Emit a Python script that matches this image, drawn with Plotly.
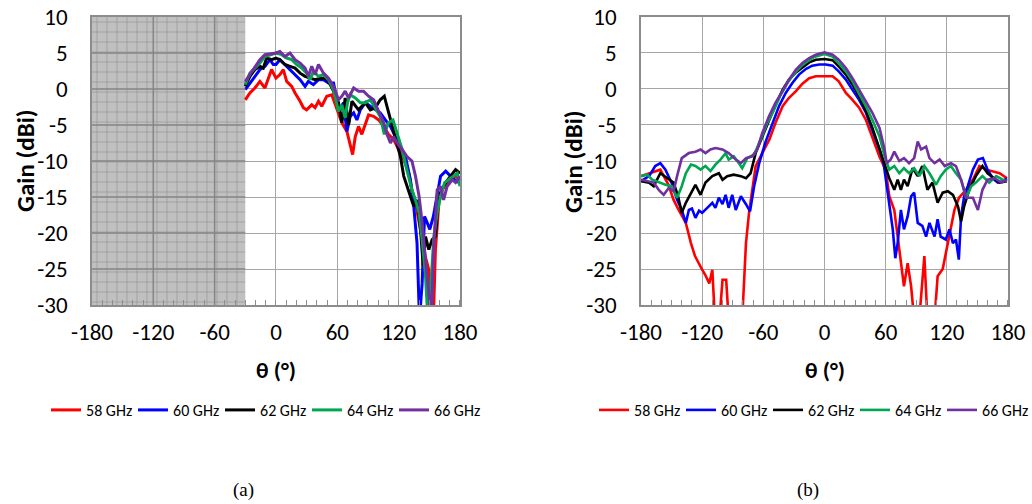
import plotly.graph_objects as go

# ---------------- data (a): measured from -30 deg to 180 deg ----------------
theta_a_58 = [-30, -25.5, -20.6, -15.7, -10.8, -7.5, -4.3, 0, 3.9, 7.2, 10.5, 15.4, 18.7, 23.6, 26.8, 30, 35, 38.3, 41.6, 44.8,
              49.7, 54.6, 59.6, 64.5, 69.4, 72.6, 75, 77.6, 80.8, 84, 87.4, 90.6, 95.5, 100.5, 105.4, 110, 115, 120, 125, 130,
              133, 136.5, 140, 143, 146, 149.5, 152, 154, 156, 159.4, 162.6, 167.5, 172.5, 175.7, 180]
gain_a_58 = [-1.5, -0.56, 0.14, 1.06, 0.14, 1.5, 2.7, 1.5, 2.0, 2.7, 1.06, 0.37, -0.56, -1.7, -2.6, -2.9, -2.2, -2.6, -1.7, -2.4,
             -1.0, -0.8, -2.9, -4.7, -5.9, -7.7, -9.1, -6.6, -5.2, -6.3, -5.0, -3.6, -3.8, -4.3, -5.2, -6.3, -7.0, -8.4, -9.8, -11.7,
             -14, -15.8, -18.6, -21.4, -23.2, -25.1, -32, -32, -22.3, -15.8, -14, -13, -12.6, -12.1, -12.6]

theta_a_60 = [-30, -25.5, -20.6, -15.7, -10.8, -5.9, -2.6, 0, 3.9, 8.8, 13.7, 18.7, 23.6, 28.5, 31.7, 36.6, 41.6, 46.5, 51.4, 56.3,
              59.6, 62.8, 66, 69.4, 72.6, 76, 79.2, 82.5, 87.4, 92.3, 97.2, 102, 107, 112, 116.8, 121.7, 126.6, 131.5, 134.8, 138,
              140.4, 143, 145.3, 148, 150.5, 154, 157.7, 161, 166, 171, 175.7, 180]
gain_a_60 = [-0.1, 0.83, 1.76, 2.7, 3.15, 4.07, 3.4, 3.4, 4.07, 3.4, 2.7, 2.0, 1.3, 0.37, 1.06, 0.6, 1.3, 1.3, 0.83, 0.83,
             -1.5, -2.9, -1.9, -5.9, -3.8, -3.3, -4.3, -2.9, -1.9, -2.4, -2.9, -3.3, -4.3, -5.2, -6.6, -8.0, -9.35, -12.6, -16.3, -21.4,
             -32, -27, -17.7, -18.6, -19.5, -17.7, -14.9, -12.1, -11.4, -12.1, -12.8, -13]

theta_a_62 = [-30, -25.5, -20.6, -15.7, -12.4, -9.2, -4.3, 0, 3.9, 8.8, 13.7, 18.7, 23.6, 28.5, 33.4, 38.3, 43.2, 48, 51.4, 56.3,
              61.2, 64.5, 67.7, 71, 74.3, 77.6, 80.8, 84, 87.4, 92.3, 97.2, 102, 106, 108.6, 112, 116.8, 121.7, 125, 128, 131.5,
              134.8, 138, 141.4, 144, 146.3, 149.5, 152.8, 156, 158.4, 161, 166, 171, 175.7, 180]
gain_a_62 = [0.37, 1.76, 2.7, 3.15, 2.9, 4.3, 4.07, 4.3, 4.07, 3.4, 3.15, 2.9, 2.2, 1.76, 1.5, 1.3, 1.5, 1.5, 1.06, -0.3,
             -1.9, -4.7, -1.25, -5.0, -1.7, -2.4, -2.9, -2.4, -1.9, -2.9, -2.6, -1.5, -1.0, -2.4, -4.3, -6.6, -9.35, -12.1, -13.5, -14.9,
             -16.3, -15.4, -19.5, -24.5, -20.5, -22.3, -20.9, -20.5, -16.3, -14.4, -13, -12.1, -11.2, -11.7]

theta_a_64 = [-30, -25.5, -20.6, -15.7, -10.8, -5.9, 0, 5.6, 10.5, 15.4, 20.3, 25.2, 30, 33.4, 36.6, 41.6, 46.5, 51.4, 56.3, 61.2,
              64.5, 67.7, 70, 72.6, 77.6, 82.5, 87.4, 92.3, 97.2, 102, 106, 110, 114.5, 118.5, 123.4, 128, 133, 136.5, 140, 143,
              146.3, 148.6, 151, 154.5, 157.7, 161, 165, 169, 174, 177.4, 180]
gain_a_64 = [0.6, 2.2, 2.9, 3.6, 4.5, 4.77, 5.0, 4.77, 4.3, 4.07, 3.4, 2.9, 2.2, 1.3, 2.45, 1.76, 2.0, 1.3, -0.1, -3.1,
             -2.2, -4.0, -1.9, -0.8, -1.25, -1.9, -1.9, -1.5, -2.6, -3.8, -6.3, -4.7, -4.3, -6.1, -8.4, -11.2, -14, -15.4, -17.2, -20.9,
             -26, -32, -28.3, -20.5, -17.2, -14.9, -13, -12.6, -12.1, -11.7, -13.5]

theta_a_66 = [-30, -25.5, -20.6, -15.7, -10.8, -5.9, 0, 3.9, 8.8, 13.7, 18.7, 23.6, 28.5, 31.7, 35, 38.3, 41.6, 46.5, 51.4, 56.3,
              61.2, 64.5, 67.7, 71, 76, 80.8, 85.7, 90.6, 95.5, 100.5, 105.4, 108.6, 112, 115, 118.5, 123.4, 128, 133, 136.5, 140,
              143, 146.3, 149.5, 152, 154.5, 157.7, 161, 164, 167.5, 172.5, 175.7, 180]
gain_a_66 = [1.06, 2.0, 3.15, 4.07, 4.77, 4.86, 5.0, 5.2, 4.5, 5.0, 4.07, 3.6, 2.9, 1.76, 3.15, 2.0, 3.4, 2.2, 1.5, 0.37,
             -1.5, -1.0, -0.3, -1.25, 0.14, -0.3, -0.3, -1.0, -1.5, -3.1, -4.7, -6.3, -7.5, -6.6, -7.5, -8.4, -9.35, -10, -12.1, -14.9,
             -18.6, -23.7, -28.8, -32, -21.4, -14, -13.5, -15.4, -13.5, -12.6, -13, -12.1]

# ---------------- data (b): full -180 deg to 180 deg ----------------
theta_b_58 = [-180, -172, -161, -153, -148, -143, -136, -131, -127, -120, -117, -113, -110, -107.5, -103, -100, -96.4, -94, -80.7, -77,
              -74, -67.5, -61, -54, -48, -41, -35, -28, -21.6, -15, -8.5, 0, 8, 14, 21, 27.5, 34, 40.7, 47, 54,
              60, 63.6, 68.5, 71.8, 75, 78, 81.6, 85, 88, 93, 98, 101, 108, 111, 116, 121, 124, 127.5, 132, 139,
              145.6, 152, 158.7, 165, 171.8, 179]
gain_b_58 = [-12.1, -11.7, -11.2, -13.3, -15.4, -16.8, -18.6, -21.4, -23.2, -25.1, -25.8, -27, -25.1, -32, -32, -26.5, -26.5, -32, -32, -21.4,
             -17.2, -10.7, -8.9, -7.0, -4.7, -2.4, -1.25, -0.3, 0.74, 1.5, 1.76, 1.76, 1.76, 1.06, -0.56, -1.5, -2.6, -4.3, -6.6, -9.4,
             -11.2, -14.9, -16.8, -20.5, -24.2, -27.4, -24.2, -27.4, -32, -32, -23.2, -32, -32, -26, -25, -21.4, -19.5, -16.8, -15.1, -14,
             -12.6, -10.7, -11.2, -11.4, -11.7, -12.4]

theta_b_60 = [-180, -172, -166, -161, -156, -150, -144.6, -140, -136, -133, -130, -126.6, -123, -120, -115, -110, -107, -103.6, -100, -97,
              -94, -90.5, -87, -82, -77, -73, -69, -64, -57.7, -51, -44.6, -38, -31.5, -25, -18, -12, -5, 1.3, 8, 14,
              21, 27.5, 34, 40.7, 47, 54, 58, 61, 63.6, 67, 69.5, 71.8, 75, 78, 81.6, 85, 88, 91.5, 96, 99.7,
              103, 108, 111, 114, 119, 122.6, 126, 129, 131.8, 134, 137, 140.6, 145.6, 150.5, 155.4, 160, 165, 170, 175, 179]
gain_b_60 = [-12.8, -12.1, -10.7, -10.3, -11.2, -13, -15.4, -16.8, -18.6, -16.8, -16.6, -17.9, -16.9, -17.2, -16.5, -15.8, -16.5, -15.1, -16.0, -14.7,
             -16.5, -14.7, -16.8, -14.9, -16.0, -17, -13.5, -10.3, -7.3, -4.7, -2.4, -0.56, 0.83, 2.0, 2.8, 3.24, 3.4, 3.4, 3.24, 2.45,
             1.3, -0.1, -1.5, -3.3, -5.6, -8.4, -10.3, -13.5, -15.8, -19.5, -23.5, -21.4, -16.8, -19.5, -17.7, -14.9, -14.4, -18.6, -19, -20.5,
             -18.6, -20.5, -18.1, -20.5, -20.9, -19.5, -21.4, -20.9, -23.7, -17.7, -14.9, -13.5, -11.2, -9.8, -9.6, -11.2, -12.4, -13, -12.8, -12.4]

theta_b_62 = [-180, -172, -167.5, -161, -154, -148, -143.6, -140, -136, -131, -126.6, -121.6, -116.7, -110, -103.6, -100, -95.4, -89, -82, -77,
              -72.5, -67.5, -61, -54.4, -48, -41, -34.8, -28, -21.6, -15, -8.5, 0, 8, 14, 21, 27.5, 34, 40.7, 47, 54,
              59, 63.6, 68.5, 71.8, 75, 78, 81.6, 86.5, 91.5, 96, 101, 106, 111, 116, 121, 126, 131, 134, 137, 142,
              148.5, 155, 160, 167, 171.8, 179]
gain_b_62 = [-12.8, -13, -13.5, -11.7, -12.4, -13, -14.9, -17.2, -15.8, -14.4, -13.3, -14.7, -13, -12.1, -11.7, -12.6, -12.1, -11.9, -12.1, -12.4,
             -11.7, -8.9, -6.6, -4.3, -2.2, -0.1, 1.3, 2.3, 3.05, 3.7, 4.07, 4.17, 4.0, 3.15, 2.0, 0.6, -1.0, -3.1, -5.4, -8.4,
             -10.7, -12.4, -14, -12.6, -14, -12.6, -13.5, -11, -12.1, -10.7, -14, -13, -15.8, -14.4, -14.2, -14.7, -16.3, -18.4, -16.3, -14,
             -12.1, -10.7, -11.7, -12.4, -13, -12.8]

theta_b_64 = [-180, -174, -169, -162.6, -156, -150, -144.6, -140, -136, -131, -126.6, -121.6, -116.7, -111.8, -107, -102, -97, -94, -89, -84,
              -80.7, -75.7, -69, -62.6, -56, -49.5, -43, -36.4, -30, -23, -16.7, -10, -3.6, 0, 8, 14, 21, 27.5, 34, 40.7,
              47, 54, 59, 63.6, 68.5, 73.4, 78, 83, 88, 93, 98, 103, 109.5, 114, 119, 124, 129, 134, 139, 144,
              148.5, 155, 161.6, 168.5, 175, 179]
gain_b_64 = [-12.1, -11.9, -12.6, -13, -13.3, -13.5, -15.1, -13.5, -11.7, -10.5, -10.7, -11.2, -10.7, -11.4, -10.5, -9.8, -8.9, -9.8, -9.35, -10.3,
             -11, -9.6, -9.1, -7.0, -4.7, -2.9, -0.8, 0.83, 2.1, 3.15, 3.84, 4.44, 4.77, 4.86, 4.5, 3.6, 2.45, 1.06, -0.56, -2.4,
             -4.3, -6.6, -9.35, -11.2, -10.7, -11.7, -11, -11.7, -11, -12.1, -10.7, -11.7, -13.3, -12.1, -11.2, -10.7, -11.7, -12.6, -15.1, -13.5,
             -13, -12.1, -13, -12.1, -12.6, -12.8]

theta_b_66 = [-180, -174, -167.5, -162.6, -157.7, -152.8, -148, -144.6, -140, -133, -126.6, -121.6, -116.7, -111.8, -107, -100, -94, -87, -82, -77,
              -70.8, -66, -61, -54.4, -48, -41, -34.8, -28, -21.6, -15, -8.5, 0, 8, 14, 21, 27.5, 34, 40.7, 47, 54,
              59, 61, 65, 68.5, 73.4, 78, 83, 88, 91.5, 94.8, 99.7, 103, 108, 113, 118, 124, 129, 134, 139, 145.6,
              150.5, 155, 160, 167, 173.4, 179]
gain_b_66 = [-12.6, -12.8, -13, -14, -14.7, -13.75, -14.2, -12.1, -9.6, -8.9, -8.7, -8.4, -8.9, -8.4, -8.2, -8.4, -8.9, -9.8, -10.3, -9.6,
             -9.35, -8.4, -6.1, -3.8, -1.9, -0.3, 1.3, 2.7, 3.6, 4.3, 4.77, 5.1, 4.77, 4.07, 2.9, 1.5, -0.1, -1.7, -3.3, -5.4,
             -8.4, -10.3, -9.8, -8.7, -10, -9.6, -10.3, -9.6, -7.3, -8.4, -8.0, -9.6, -10.3, -9.8, -10.7, -10.3, -10.7, -12.6, -15.1, -15.1,
             -16.8, -14, -12.6, -12.4, -13, -12.6]

series_names = ["58 GHz", "60 GHz", "62 GHz", "64 GHz", "66 GHz"]
series_colors = ["#ff0000", "#0000ff", "#000000", "#00a651", "#7030a0"]

x_ticks = [-180, -120, -60, 0, 60, 120, 180]
y_ticks = [10, 5, 0, -5, -10, -15, -20, -25, -30]
unmeasured_range = [-180, -30]  # shaded region in (a)

panel_a = [(theta_a_58, gain_a_58), (theta_a_60, gain_a_60), (theta_a_62, gain_a_62),
           (theta_a_64, gain_a_64), (theta_a_66, gain_a_66)]
panel_b = [(theta_b_58, gain_b_58), (theta_b_60, gain_b_60), (theta_b_62, gain_b_62),
           (theta_b_64, gain_b_64), (theta_b_66, gain_b_66)]

FONT = "Carlito, Lato, sans-serif"
GRID = "#a6a6a6"
BORDER = "#8c8c8c"

fig = go.Figure()

# shaded unmeasured area in (a)
fig.add_trace(go.Scatter(
    x=[unmeasured_range[0], unmeasured_range[1], unmeasured_range[1], unmeasured_range[0], unmeasured_range[0]],
    y=[-30, -30, 10, 10, -30],
    fill="toself", mode="lines", line=dict(width=0, color="rgba(0,0,0,0)"),
    fillcolor="#c0c0c0",
    fillpattern=dict(shape="+", size=10, solidity=0.12, fgcolor="#8e8e8e", bgcolor="#c0c0c0", fillmode="replace"),
    showlegend=False, hoverinfo="skip", xaxis="x", yaxis="y"))

for (th, g), name, col in zip(panel_a, series_names, series_colors):
    fig.add_trace(go.Scatter(x=th, y=g, mode="lines", name=name,
                             line=dict(color=col, width=3), xaxis="x", yaxis="y", legend="legend"))

for (th, g), name, col in zip(panel_b, series_names, series_colors):
    fig.add_trace(go.Scatter(x=th, y=g, mode="lines", name=name,
                             line=dict(color=col, width=2.6), xaxis="x2", yaxis="y2", legend="legend2"))

axis_common = dict(showgrid=True, gridcolor=GRID, gridwidth=1.3, zeroline=False,
                   showline=True, linecolor=BORDER, linewidth=1.5, mirror=True,
                   tickfont=dict(family=FONT, size=23, color="#000"), ticks="", fixedrange=True)

xa = dict(axis_common, range=[-180, 180], tickvals=x_ticks, ticktext=[str(v) for v in x_ticks],
          ticklabelstandoff=6,
          minor=dict(dtick=10, tick0=0, ticks="inside", ticklen=5, tickcolor=BORDER, tickwidth=1, showgrid=False))
ya = dict(axis_common, range=[-30, 10], tickvals=y_ticks, ticktext=[str(v) for v in y_ticks],
          ticklabelstandoff=18)

legend_common = dict(orientation="h", y=0.1865, xanchor="left", yanchor="middle",
                     font=dict(family=FONT, size=16, color="#000"), itemwidth=30,
                     entrywidth=42, entrywidthmode="pixels", bgcolor="rgba(0,0,0,0)")

yd = [0.3948, 0.9663]
fig.update_layout(
    width=1032, height=504,
    margin=dict(l=0, r=0, t=0, b=0, autoexpand=False),
    paper_bgcolor="white", plot_bgcolor="white",
    font=dict(family=FONT, color="#000"),
    xaxis=dict(xa, domain=[0.0891, 0.4457], anchor="y", automargin=False),
    yaxis=dict(ya, domain=yd, anchor="x", automargin=False),
    xaxis2=dict(xa, domain=[0.6211, 0.9767], anchor="y2", automargin=False),
    yaxis2=dict(ya, domain=yd, anchor="x2", automargin=False),
    legend=dict(legend_common, x=0.0446),
    legend2=dict(legend_common, x=0.5756),
    showlegend=True,
)

# major grid lines drawn over the shaded area
shapes = []
for xv in [-120, -60]:
    shapes.append(dict(type="line", xref="x", yref="y", x0=xv, x1=xv, y0=-30, y1=10,
                       line=dict(color="#858585", width=1.5), layer="above"))
for yv in [5, 0, -5, -10, -15, -20, -25]:
    shapes.append(dict(type="line", xref="x", yref="y", x0=-180, x1=-30, y0=yv, y1=yv,
                       line=dict(color="#858585", width=1.5), layer="above"))
fig.update_layout(shapes=shapes)

annos = []
for xp in [0.0252, 0.5562]:
    annos.append(dict(text="<b>Gain (dBi)</b>", x=xp, y=0.6806, xref="paper", yref="paper",
                      xanchor="center", yanchor="middle",
                      textangle=-90, showarrow=False, font=dict(family=FONT, size=25, color="#000")))
for xp in [0.2674, 0.799]:
    annos.append(dict(text="<b>θ (°)</b>", x=xp, y=0.266, xref="paper", yref="paper",
                      xanchor="center", yanchor="middle",
                      showarrow=False, font=dict(family=FONT, size=23, color="#000")))
for txt, xp in [("(a)", 0.2364), ("(b)", 0.783)]:
    annos.append(dict(text=txt, x=xp, y=0.0278, xref="paper", yref="paper", showarrow=False,
                      xanchor="center", yanchor="middle",
                      font=dict(family="'Liberation Serif', 'Times New Roman', serif", size=19, color="#000")))
fig.update_layout(annotations=annos)

fig.write_html("out.html",
               config={"displayModeBar": False},
               post_script="document.body.style.margin='0';document.body.style.overflow='hidden';")
